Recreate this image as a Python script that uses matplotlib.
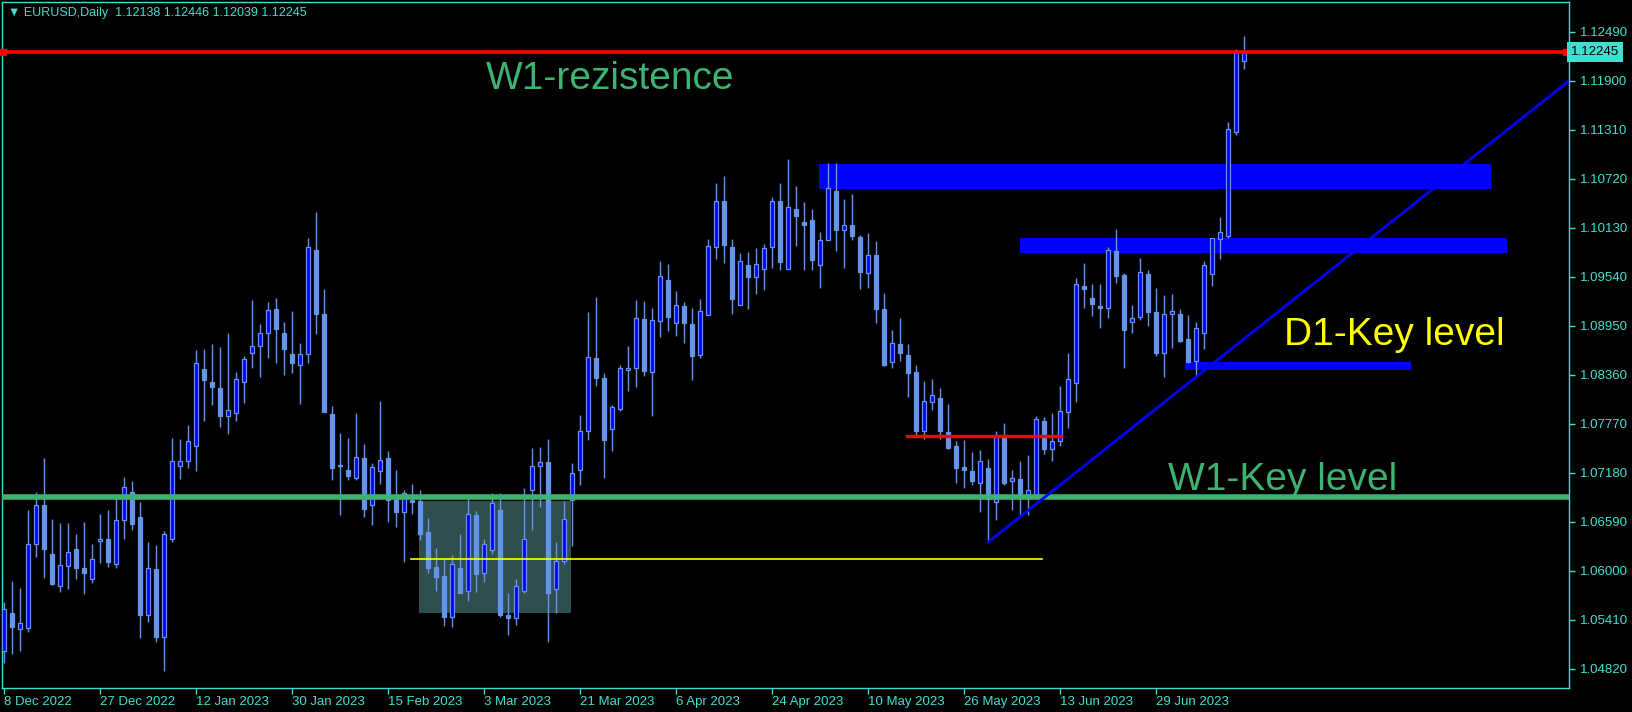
import matplotlib.pyplot as plt
from matplotlib.patches import Rectangle
from matplotlib.transforms import blended_transform_factory

# EURUSD daily candles, bar 0 = 8 Dec 2022
opens = [1.0504, 1.0550, 1.0530, 1.0531, 1.0632, 1.0679, 1.0621, 1.0582, 1.0606, 1.0627,
         1.0604, 1.0590, 1.0636, 1.0638, 1.0608, 1.0661, 1.0695, 1.0665, 1.0547, 1.0602,
         1.0521, 1.0639, 1.0727, 1.0732, 1.0751, 1.0843, 1.0828, 1.0820, 1.0787, 1.0790,
         1.0827, 1.0863, 1.0871, 1.0886, 1.0916, 1.0887, 1.0861, 1.0848, 1.0861, 1.0987,
         1.0909, 1.0789, 1.0728, 1.0722, 1.0712, 1.0736, 1.0680, 1.0720, 1.0736, 1.0687,
         1.0671, 1.0685, 1.0684, 1.0647, 1.0605, 1.0594, 1.0544, 1.0604, 1.0576, 1.0667,
         1.0597, 1.0625, 1.0673, 1.0547, 1.0543, 1.0576, 1.0698, 1.0727, 1.0731, 1.0578,
         1.0612, 1.0686, 1.0721, 1.0768, 1.0857, 1.0832, 1.0771, 1.0795, 1.0842, 1.0844,
         1.0904, 1.0840, 1.0901, 1.0950, 1.0898, 1.0919, 1.0897, 1.0860, 1.0908, 1.0990,
         1.1045, 1.0990, 1.0920, 1.0968, 1.0954, 1.0964, 1.0990, 1.1045, 1.0964, 1.1036,
         1.1020, 1.1023, 1.0968, 1.0998, 1.1058, 1.1010, 1.1017, 1.1002, 1.0959, 1.0980,
         1.0915, 1.0852, 1.0873, 1.0860, 1.0839, 1.0768, 1.0803, 1.0808, 1.0767, 1.0751,
         1.0725, 1.0720, 1.0706, 1.0724, 1.0683, 1.0763, 1.0708, 1.0711, 1.0692, 1.0692,
         1.0781, 1.0747, 1.0756, 1.0792, 1.0826, 1.0943, 1.0929, 1.0919, 1.0917, 1.0985,
         1.0956, 1.0900, 1.0906, 1.0957, 1.0912, 1.0863, 1.0909, 1.0909, 1.0879, 1.0853,
         1.0886, 1.0958, 1.1000, 1.1003, 1.1128, 1.12138]
highs = [1.0563, 1.0588, 1.0579, 1.0673, 1.0695, 1.0736, 1.0663, 1.0658, 1.0658, 1.0645,
         1.0659, 1.0633, 1.0669, 1.0673, 1.0691, 1.0713, 1.0708, 1.0683, 1.0635, 1.0631,
         1.0648, 1.0760, 1.0759, 1.0776, 1.0866, 1.0867, 1.0873, 1.0870, 1.0887, 1.0840,
         1.0859, 1.0926, 1.0897, 1.0924, 1.0929, 1.0900, 1.0913, 1.0874, 1.1001, 1.1032,
         1.0940, 1.0799, 1.0766, 1.0760, 1.0790, 1.0753, 1.0730, 1.0805, 1.0744, 1.0722,
         1.0698, 1.0705, 1.0698, 1.0664, 1.0628, 1.0615, 1.0619, 1.0645, 1.0692, 1.0672,
         1.0639, 1.0694, 1.0694, 1.0573, 1.0590, 1.0700, 1.0748, 1.0749, 1.0759, 1.0635,
         1.0684, 1.0730, 1.0788, 1.0912, 1.0930, 1.0838, 1.0800, 1.0848, 1.0871, 1.0926,
         1.0925, 1.0917, 1.0973, 1.0970, 1.0937, 1.0924, 1.0917, 1.0928, 1.1000, 1.1067,
         1.1076, 1.1000, 1.0983, 1.0984, 1.0989, 1.0994, 1.1050, 1.1067, 1.1096, 1.1064,
         1.1044, 1.1036, 1.1008, 1.1091, 1.1091, 1.1048, 1.1054, 1.1005, 1.1007, 1.0997,
         1.0935, 1.0890, 1.0905, 1.0873, 1.0848, 1.0829, 1.0831, 1.0820, 1.0801, 1.0757,
         1.0758, 1.0743, 1.0746, 1.0735, 1.0769, 1.0778, 1.0722, 1.0732, 1.0740, 1.0787,
         1.0786, 1.0790, 1.0823, 1.0863, 1.0953, 1.0971, 1.0946, 1.0946, 1.0990, 1.1012,
         1.0959, 1.0920, 1.0977, 1.0963, 1.0941, 1.0932, 1.0934, 1.0916, 1.0908, 1.0900,
         1.0973, 1.1001, 1.1026, 1.1141, 1.1229, 1.12446]
lows = [1.0489, 1.0500, 1.0504, 1.0527, 1.0617, 1.0591, 1.0583, 1.0575, 1.0578, 1.0590,
        1.0572, 1.0585, 1.0610, 1.0605, 1.0604, 1.0638, 1.0649, 1.0519, 1.0539, 1.0514,
        1.0479, 1.0635, 1.0711, 1.0724, 1.0720, 1.0780, 1.0800, 1.0773, 1.0765, 1.0781,
        1.0802, 1.0845, 1.0834, 1.0856, 1.0850, 1.0836, 1.0838, 1.0801, 1.0851, 1.0885,
        1.0792, 1.0709, 1.0668, 1.0709, 1.0709, 1.0665, 1.0655, 1.0705, 1.0659, 1.0653,
        1.0611, 1.0669, 1.0637, 1.0598, 1.0576, 1.0534, 1.0532, 1.0573, 1.0564, 1.0575,
        1.0587, 1.0621, 1.0545, 1.0523, 1.0535, 1.0573, 1.0649, 1.0677, 1.0515, 1.0549,
        1.0608, 1.0630, 1.0703, 1.0758, 1.0823, 1.0712, 1.0744, 1.0793, 1.0817, 1.0822,
        1.0835, 1.0787, 1.0882, 1.0889, 1.0883, 1.0875, 1.0830, 1.0857, 1.0908, 1.0976,
        1.0971, 1.0909, 1.0920, 1.0916, 1.0933, 1.0938, 1.0965, 1.0963, 1.0964, 1.0991,
        1.0962, 1.0963, 1.0941, 1.0998, 1.0985, 1.0965, 1.0999, 1.0940, 1.0941, 1.0899,
        1.0847, 1.0845, 1.0853, 1.0809, 1.0764, 1.0759, 1.0794, 1.0759, 1.0747, 1.0706,
        1.0700, 1.0704, 1.0671, 1.0635, 1.0661, 1.0704, 1.0674, 1.0667, 1.0667, 1.0689,
        1.0741, 1.0732, 1.0751, 1.0772, 1.0803, 1.0917, 1.0907, 1.0892, 1.0905, 1.0947,
        1.0844, 1.0887, 1.0902, 1.0895, 1.0859, 1.0834, 1.0869, 1.0876, 1.0850, 1.0835,
        1.0867, 1.0943, 1.0976, 1.1001, 1.1125, 1.12039]
closes = [1.0554, 1.0532, 1.0537, 1.0632, 1.0680, 1.0626, 1.0584, 1.0607, 1.0623, 1.0603,
          1.0597, 1.0614, 1.0638, 1.0611, 1.0661, 1.0701, 1.0657, 1.0547, 1.0603, 1.0521,
          1.0644, 1.0732, 1.0733, 1.0756, 1.0850, 1.0830, 1.0821, 1.0787, 1.0794, 1.0831,
          1.0855, 1.0871, 1.0887, 1.0914, 1.0891, 1.0867, 1.0851, 1.0861, 1.0990, 1.0910,
          1.0792, 1.0724, 1.0726, 1.0714, 1.0737, 1.0675, 1.0725, 1.0734, 1.0686, 1.0671,
          1.0694, 1.0683, 1.0645, 1.0604, 1.0593, 1.0544, 1.0608, 1.0574, 1.0669, 1.0596,
          1.0633, 1.0682, 1.0547, 1.0543, 1.0582, 1.0638, 1.0727, 1.0731, 1.0574, 1.0612,
          1.0663, 1.0718, 1.0768, 1.0858, 1.0832, 1.0758, 1.0797, 1.0845, 1.0844, 1.0905,
          1.0841, 1.0902, 1.0955, 1.0906, 1.0920, 1.0899, 1.0859, 1.0913, 1.0991, 1.1046,
          1.0992, 1.0927, 1.0973, 1.0954, 1.0970, 1.0989, 1.1045, 1.0972, 1.1038, 1.1028,
          1.1017, 1.0975, 1.0999, 1.1061, 1.1011, 1.1017, 1.1003, 1.0960, 1.0981, 1.0915,
          1.0848, 1.0874, 1.0862, 1.0838, 1.0769, 1.0805, 1.0812, 1.0769, 1.0748, 1.0724,
          1.0722, 1.0708, 1.0733, 1.0687, 1.0763, 1.0706, 1.0712, 1.0691, 1.0698, 1.0783,
          1.0747, 1.0757, 1.0793, 1.0831, 1.0945, 1.0940, 1.0921, 1.0917, 1.0986, 1.0955,
          1.0890, 1.0905, 1.0960, 1.0912, 1.0863, 1.0910, 1.0913, 1.0877, 1.0852, 1.0892,
          1.0968, 1.1001, 1.1008, 1.1132, 1.1225, 1.12245]

date_ticks = [0, 12, 24, 36, 48, 60, 72, 84, 96, 108, 120, 132, 144]
date_labels = ['8 Dec 2022', '27 Dec 2022', '12 Jan 2023', '30 Jan 2023', '15 Feb 2023',
               '3 Mar 2023', '21 Mar 2023', '6 Apr 2023', '24 Apr 2023', '10 May 2023',
               '26 May 2023', '13 Jun 2023', '29 Jun 2023']
price_ticks = [1.04820, 1.05410, 1.06000, 1.06590, 1.07180, 1.07770, 1.08360,
               1.08950, 1.09540, 1.10130, 1.10720, 1.11310, 1.11900, 1.12490]

# drawn objects (levels / zones)
w1_resistance = 1.12245
w1_key = 1.06891
red_level = 1.0763          # from bar 112.9 to 132.1
yellow_level = 1.0615       # from bar 50.9 to 129.8
gray_box = (51.9, 70.9, 1.05494, 1.06843)
blue_zones = [(101.9, 185.9, 1.10600, 1.10901),
              (127.0, 187.9, 1.09829, 1.10010),
              (147.6, 175.9, 1.08420, 1.08516)]
trend = ((123, 1.06346), (195.6, 1.11900))

AXC = '#40E0D0'
BULL_FILL = '#0000FF'
CANDLE = '#6495ED'
GREEN = '#3CB371'

plt.rcParams['font.family'] = ['Liberation Sans', 'DejaVu Sans']

fig = plt.figure(figsize=(16.33, 7.12), dpi=100, facecolor='black')
ax = fig.add_axes([2 / 1633, 24 / 712, 1567 / 1633, 686 / 712])
ax.set_facecolor('black')

# zones behind candles
x0, x1, y0, y1 = gray_box
ax.add_patch(Rectangle((x0, y0), x1 - x0, y1 - y0, facecolor='#2F4F4F', edgecolor='none', zorder=1))
for x0, x1, y0, y1 in blue_zones:
    ax.add_patch(Rectangle((x0, y0), x1 - x0, y1 - y0, facecolor='#0000FF', edgecolor='none', zorder=1))

# candles
for i in range(len(opens)):
    o, h, l, c = opens[i], highs[i], lows[i], closes[i]
    ax.plot([i, i], [l, h], color=CANDLE, lw=1, zorder=2, solid_capstyle='butt')
    bottom = min(o, c)
    height = max(abs(c - o), 0.00008)
    fc = BULL_FILL if c >= o else CANDLE
    ax.bar(i, height, bottom=bottom, width=0.62, color=fc, edgecolor=CANDLE, linewidth=0.9, zorder=3)

# lines on top
ax.axhline(w1_resistance + 0.00004, color='#A0A0A0', lw=0.8, zorder=4)
ax.axhline(w1_resistance, color='red', lw=2.6, zorder=4)
ax.plot([-0.1], [w1_resistance], marker='s', ms=5, color='red', zorder=5, clip_on=False)
ax.plot([195.2], [w1_resistance], marker='s', ms=5, color='red', zorder=5, clip_on=False)
ax.axhline(w1_key, color=GREEN, lw=4, zorder=4)
ax.plot([112.9, 132.1], [red_level, red_level], color='red', lw=2.5, zorder=4)
ax.plot([50.9, 129.8], [yellow_level, yellow_level], color='yellow', lw=1.2, zorder=4)
ax.plot([trend[0][0], trend[1][0]], [trend[0][1], trend[1][1]], color='#0000FF', lw=2, zorder=4)

# labels
ax.text(60.25, 1.11800, 'W1-rezistence', color=GREEN, fontsize=28, va='baseline', ha='left', zorder=6)
ax.text(145.5, 1.06970, 'W1-Key level', color=GREEN, fontsize=28, va='baseline', ha='left', zorder=6)
ax.text(160.0, 1.08725, 'D1-Key level', color='yellow', fontsize=28, va='baseline', ha='left', zorder=6)

ax.set_xlim(-0.25, 195.625)
ax.set_ylim(1.04591, 1.12851)

ax.yaxis.tick_right()
ax.set_yticks(price_ticks)
ax.set_yticklabels(['%.5f' % p for p in price_ticks])
ax.set_xticks(date_ticks)
ax.set_xticklabels(date_labels)
for lab in ax.get_xticklabels():
    lab.set_horizontalalignment('left')
ax.tick_params(colors=AXC, labelcolor=AXC, labelsize=9.5, length=4, width=1, direction='out')
ax.tick_params(axis='x', pad=2)
ax.tick_params(axis='y', pad=4)
for s in ax.spines.values():
    s.set_color(AXC)
    s.set_linewidth(1)

tr = blended_transform_factory(ax.transAxes, ax.transData)
ax.text(1.0015, w1_resistance, '1.12245', transform=tr, color='black', fontsize=9.5,
        va='center', ha='left', zorder=7,
        bbox=dict(facecolor=AXC, edgecolor='none', boxstyle='square,pad=0.3'))

fig.text(8 / 1633, 1 - 13 / 712, '\u25bc EURUSD,Daily  1.12138 1.12446 1.12039 1.12245',
         color=AXC, fontsize=9, va='center', ha='left')

fig.savefig('out.png', dpi=100, facecolor='black')
